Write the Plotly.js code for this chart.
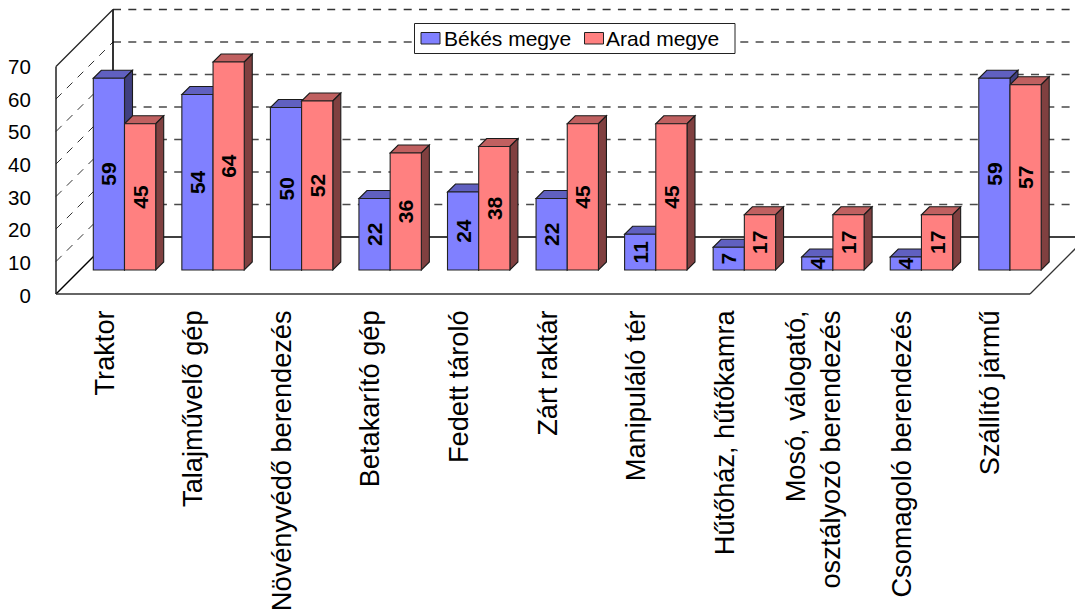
<!DOCTYPE html>
<html><head><meta charset="utf-8">
<script src="https://cdn.plot.ly/plotly-3.0.1.min.js"></script>
<style>html,body{margin:0;padding:0;background:#fff;overflow:hidden}#c{width:1075px;height:611px}</style>
</head><body><div id="c"></div>
<script>
const categories = ["Traktor","Talajművelő gép","Növényvédő berendezés","Betakarító gép","Fedett tároló","Zárt raktár","Manipuláló tér","Hűtőház, hűtőkamra","Mosó, válogató,<br>osztályozó berendezés","Csomagoló berendezés","Szállító jármű"];
const bekes = [59,54,50,22,24,22,11,7,4,4,59];
const arad = [45,64,52,36,38,45,45,17,17,17,57];
const seriesNames = ["Békés megye","Arad megye"];
const seriesColors = ["#8080FF","#FF8080"];
const valueTicks = [0,10,20,30,40,50,60,70];

const W=1075,H=611,L=40,B=300;
const PXU=88.55, PXV=3.25, C0=124.5;
const x0=(L-C0)/PXU, x1=(W-C0)/PXU;
const floorY=270;
const xu=px=>(px-C0)/PXU;
const yv=px=>(floorY-px)/PXV;
const dX=8/PXU, dY=8/PXV;
const barW=31.2/PXU;
const wallDX=57/PXU;
const wallBackX=xu(113), wallFrontX=xu(56);
const backZero=yv(237), frontZero=yv(294);
const FONT='Liberation Sans, Arial, sans-serif';

const shapes=[];
const line=(a,b,c,d,col,w,dash)=>shapes.push({type:'line',layer:'below',xref:'x',yref:'y',x0:a,y0:b,x1:c,y1:d,line:{color:col,width:w,dash:dash||'solid'}});
const DASH='8px,7.3px';
valueTicks.forEach(v=>{
  if(v===0) return;
  line(wallBackX,backZero+v,x1+1,backZero+v,v===70?'#333':'#4a4a4a',1.5,DASH);
  if(v<70) line(wallFrontX,frontZero+v,wallBackX,backZero+v,'#333',1,DASH);
});
line(wallBackX,backZero,x1+1,backZero,'#000',1.5);
line(wallBackX,backZero,wallBackX,backZero+70,'#000',1.6);
line(wallFrontX,frontZero,wallFrontX,frontZero+70,'#222',1.5);
line(wallFrontX,frontZero+70,wallBackX,backZero+70,'#222',1.3);
line(wallFrontX,frontZero,wallBackX,backZero,'#000',1.4);
line(wallFrontX,frontZero,xu(1030),frontZero,'#333',1.5);
line(xu(1030),frontZero,xu(1030)+wallDX,backZero,'#333',1.3);

const poly=(pts,fill)=>shapes.push({type:'path',layer:'below',xref:'x',yref:'y',
  path:'M'+pts.map(p=>p[0]+','+p[1]).join('L')+'Z',fillcolor:fill,line:{color:'#1a1a1a',width:1.1}});
function faces(vals,off,top,side){
  vals.forEach((v,i)=>{
    const a=i+off,b=a+barW;
    poly([[a,v],[b,v],[b+dX,v+dY],[a+dX,v+dY]],top);
    poly([[b,0],[b,v],[b+dX,v+dY],[b+dX,dY]],side);
  });
}
faces(bekes,-barW,'#6060C0','#404080');
faces(arad,0,'#C06060','#804040');

// legend box and swatches share the plot's axes so that they cover the grid lines
const rect=(a,b,c,d,fill,col,w)=>shapes.push({type:'rect',layer:'below',xref:'x',yref:'y',x0:xu(a),x1:xu(c),y0:yv(b),y1:yv(d),fillcolor:fill,line:{color:col,width:w}});
rect(414.5,23.5,735,53.5,'#fff','#222',1);
const annotations=[];
[[421,443.5],[584.5,606]].forEach((p,i)=>{
  rect(p[0],32.5,p[0]+19,44,seriesColors[i],'#222',1);
  annotations.push({xref:'x',yref:'y',x:xu(p[1]),y:yv(38.5),xanchor:'left',yanchor:'middle',showarrow:false,align:'left',
    text:seriesNames[i],font:{family:FONT,size:21,color:'#000'},borderpad:0,borderwidth:0});
});

const idx=categories.map((_,i)=>i);
const mk=(name,vals,color)=>({type:'bar',name,x:idx,y:vals,text:vals.map(String),
  textposition:'inside',insidetextanchor:'middle',textangle:-90,constraintext:'none',cliponaxis:false,
  textfont:{family:FONT,size:21,color:'#000',weight:700},
  marker:{color,line:{color:'#222',width:1.1}},hoverinfo:'x+y'});
const traces=[mk(seriesNames[0],bekes,seriesColors[0]),mk(seriesNames[1],arad,seriesColors[1]),
 {type:'scatter',x:[0],y:[0],yaxis:'y2',mode:'none',showlegend:false,hoverinfo:'skip'}];

const Y2=3.264, Y20=295.5;
Plotly.newPlot('c',traces,{
  width:W,height:H,margin:{l:L,r:0,t:0,b:H-B,pad:0},
  paper_bgcolor:'#fff',plot_bgcolor:'rgba(0,0,0,0)',
  font:{family:FONT,size:20,color:'#000'},
  barmode:'group',bargap:1-2*barW,bargroupgap:0,showlegend:false,
  xaxis:{range:[x0,x1],tickmode:'array',tickvals:idx.map(i=>i-19.5/PXU),ticktext:categories,tickangle:-90,
    showgrid:false,zeroline:false,showline:false,ticks:'',ticklabelstandoff:4,tickfont:{size:27.2},automargin:false},
  yaxis:{range:[yv(B),yv(0)],showgrid:false,zeroline:false,showline:false,showticklabels:false,ticks:'',fixedrange:true},
  yaxis2:{overlaying:'y',side:'left',anchor:'x',range:[(Y20-B)/Y2,Y20/Y2],tickmode:'array',tickvals:valueTicks,ticktext:valueTicks.map(String),
    showgrid:false,zeroline:false,showline:false,ticks:'outside',ticklen:4,tickcolor:'rgba(0,0,0,0)',tickfont:{size:20.5},automargin:false},
  shapes,annotations
},{displayModeBar:false,staticPlot:true});
</script></body></html>
